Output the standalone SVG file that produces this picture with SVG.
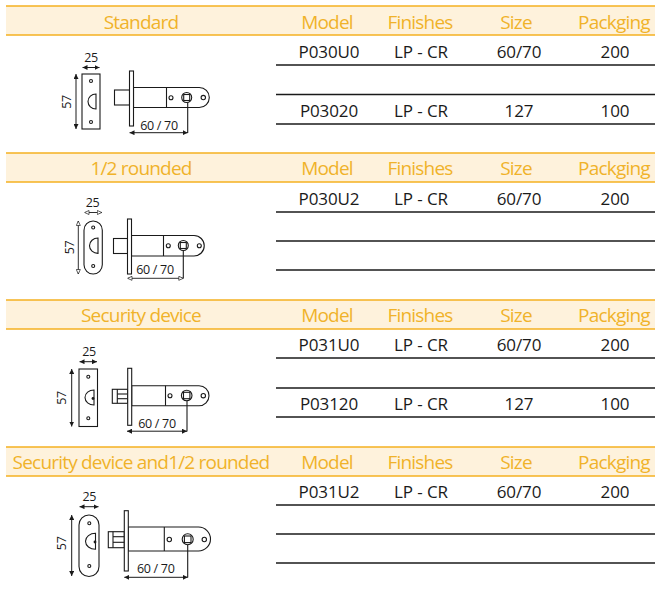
<svg xmlns="http://www.w3.org/2000/svg" width="655" height="591" viewBox="0 0 655 591">
<defs>
<marker id="ah" viewBox="0 0 10 10" refX="10" refY="5" markerWidth="5" markerHeight="5" orient="auto-start-reverse" markerUnits="userSpaceOnUse"><path d="M0,0 L10,5 L0,10 Z" fill="#1a1a1a"/></marker>
<marker id="ao" viewBox="0 0 10 10" refX="10" refY="5" markerWidth="5" markerHeight="5" orient="auto-start-reverse" markerUnits="userSpaceOnUse"><path d="M1,1 L10,5 L1,9 Z" fill="#fff" stroke="#1a1a1a" stroke-width="1.4"/></marker>
<style>
.band{fill:#fef2dc}
.bl{stroke:#f4b120;stroke-width:1.5}
.ht{font-family:"Open Sans","Noto Sans",sans-serif;font-size:19px;letter-spacing:-0.8px;fill:#f0b22a;text-anchor:middle}
.dt{font-family:"Open Sans","Noto Sans",sans-serif;font-size:17px;letter-spacing:-0.1px;fill:#1a1a1a;text-anchor:middle}
.rl{stroke:#1a1a1a;stroke-width:1.3}
.d{fill:none;stroke:#1a1a1a;stroke-width:1.1}
.dw{fill:#fff;stroke:#1a1a1a;stroke-width:1.1}
.dim{stroke:#1a1a1a;stroke-width:1;fill:none;marker-start:url(#ah);marker-end:url(#ah)}
.dimo{stroke:#1a1a1a;stroke-width:0.9;fill:none;marker-start:url(#ao);marker-end:url(#ao)}
.mt{font-family:"Open Sans","Noto Sans",sans-serif;font-size:12.5px;letter-spacing:-0.3px;fill:#1a1a1a;text-anchor:middle}
.dot{fill:#1a1a1a}
</style>
</defs>
<rect width="655" height="591" fill="#fff"/>

<!-- Section 1 -->
<g id="sec1-header">
<rect class="band" x="6" y="6" width="649" height="29"/>
<line class="bl" x1="6" y1="6" x2="655" y2="6"/>
<line class="bl" x1="6" y1="35" x2="655" y2="35"/>
<text class="ht" x="141" y="29">Standard</text>
<text class="ht" x="327" y="29">Model</text>
<text class="ht" x="420" y="29">Finishes</text>
<text class="ht" x="516" y="29">Size</text>
<text class="ht" x="614" y="29">Packging</text>
</g>
<g id="sec1-table">
<text class="dt" x="329" y="58">P030U0</text>
<text class="dt" x="421" y="58">LP - CR</text>
<text class="dt" x="519" y="58">60/70</text>
<text class="dt" x="615" y="58">200</text>
<line class="rl" x1="276" y1="65" x2="655" y2="65"/>
<line class="rl" x1="276" y1="94.5" x2="655" y2="94.5"/>
<text class="dt" x="329" y="117">P03020</text>
<text class="dt" x="421" y="117">LP - CR</text>
<text class="dt" x="519" y="117">127</text>
<text class="dt" x="615" y="117">100</text>
<line class="rl" x1="276" y1="124" x2="655" y2="124"/>
</g>
<g id="sec1-drawing">
<rect class="d" x="82" y="74" width="18" height="55"/>
<circle class="d" cx="91" cy="81" r="1.5"/>
<circle class="d" cx="91" cy="122" r="1.5"/>
<path class="d" d="M96,94 A8,7.5 0 0 0 96,109 Z"/>
<line class="dim" x1="82.5" y1="67.5" x2="99.5" y2="67.5"/>
<text class="mt" x="91" y="62">25</text>
<line class="dim" x1="76" y1="74" x2="76" y2="129"/>
<text class="mt" transform="translate(71,102) rotate(-90)">57</text>
<rect class="dw" x="114.5" y="90" width="15" height="15"/>
<path class="dw" d="M133.5,87.5 H199.3 A10,10 0 0 1 199.3,107.5 H133.5 Z"/>
<line class="d" x1="166.5" y1="87.5" x2="166.5" y2="107.5"/>
<rect class="dw" x="129.5" y="71" width="4" height="55"/>
<circle class="d" cx="171" cy="97.8" r="2"/>
<circle class="d" cx="186.7" cy="97.5" r="5"/>
<rect class="d" x="183.7" y="94.5" width="6" height="6"/>
<circle class="d" cx="203.3" cy="97.6" r="2.2"/>
<line class="d" x1="187.7" y1="102.5" x2="187.7" y2="133"/>
<line class="dim" x1="129.5" y1="132.7" x2="187.7" y2="132.7"/>
<text class="mt" x="159" y="130">60 / 70</text>
</g>

<!-- Section 2 -->
<g id="sec2-header">
<rect class="band" x="6" y="153" width="649" height="29"/>
<line class="bl" x1="6" y1="153" x2="655" y2="153"/>
<line class="bl" x1="6" y1="182" x2="655" y2="182"/>
<text class="ht" x="141" y="175">1/2 rounded</text>
<text class="ht" x="327" y="175">Model</text>
<text class="ht" x="420" y="175">Finishes</text>
<text class="ht" x="516" y="175">Size</text>
<text class="ht" x="614" y="175">Packging</text>
</g>
<g id="sec2-table">
<text class="dt" x="329" y="205">P030U2</text>
<text class="dt" x="421" y="205">LP - CR</text>
<text class="dt" x="519" y="205">60/70</text>
<text class="dt" x="615" y="205">200</text>
<line class="rl" x1="276" y1="212" x2="655" y2="212"/>
<line class="rl" x1="276" y1="241" x2="655" y2="241"/>
<line class="rl" x1="276" y1="270" x2="655" y2="270"/>
</g>
<g id="sec2-drawing">
<rect class="d" x="84" y="221" width="18.3" height="53" rx="9.15"/>
<circle class="d" cx="93.2" cy="227.5" r="1.5"/>
<circle class="d" cx="93.2" cy="266" r="1.5"/>
<path class="d" d="M98,238 A8.5,7.7 0 0 0 98,253.4 Z"/>
<line class="dimo" x1="84.5" y1="212.5" x2="101.8" y2="212.5"/>
<text class="mt" x="92.5" y="207">25</text>
<line class="dimo" x1="78.3" y1="221" x2="78.3" y2="274"/>
<text class="mt" transform="translate(73.5,247.5) rotate(-90)">57</text>
<rect class="dw" x="113.5" y="238.5" width="14" height="15"/>
<path class="dw" d="M131.5,235.5 H194 A10.25,10.25 0 0 1 194,256 H131.5 Z"/>
<line class="d" x1="163.5" y1="235.5" x2="163.5" y2="256"/>
<rect class="dw" x="127.5" y="219" width="4" height="55"/>
<circle class="d" cx="168.3" cy="245.7" r="2"/>
<circle class="d" cx="183.3" cy="245.5" r="5"/>
<rect class="d" x="180.3" y="242.5" width="6" height="6"/>
<circle class="d" cx="199.3" cy="245.7" r="2"/>
<line class="d" x1="183.3" y1="250.5" x2="183.3" y2="278.5"/>
<line class="dimo" x1="127.5" y1="278.3" x2="183.3" y2="278.3"/>
<text class="mt" x="155" y="274">60 / 70</text>
</g>

<!-- Section 3 -->
<g id="sec3-header">
<rect class="band" x="6" y="300" width="649" height="29"/>
<line class="bl" x1="6" y1="300" x2="655" y2="300"/>
<line class="bl" x1="6" y1="329" x2="655" y2="329"/>
<text class="ht" x="141" y="322">Security device</text>
<text class="ht" x="327" y="322">Model</text>
<text class="ht" x="420" y="322">Finishes</text>
<text class="ht" x="516" y="322">Size</text>
<text class="ht" x="614" y="322">Packging</text>
</g>
<g id="sec3-table">
<text class="dt" x="329" y="351">P031U0</text>
<text class="dt" x="421" y="351">LP - CR</text>
<text class="dt" x="519" y="351">60/70</text>
<text class="dt" x="615" y="351">200</text>
<line class="rl" x1="276" y1="358" x2="655" y2="358"/>
<line class="rl" x1="276" y1="388" x2="655" y2="388"/>
<text class="dt" x="329" y="410">P03120</text>
<text class="dt" x="421" y="410">LP - CR</text>
<text class="dt" x="519" y="410">127</text>
<text class="dt" x="615" y="410">100</text>
<line class="rl" x1="276" y1="417" x2="655" y2="417"/>
</g>
<g id="sec3-drawing">
<rect class="d" x="79" y="369" width="18.5" height="57.5"/>
<circle class="d" cx="88.3" cy="376.7" r="1.5"/>
<circle class="d" cx="88.3" cy="418.3" r="1.5"/>
<path class="d" d="M94,390 A9,7.5 0 0 0 94,405 Z"/>
<circle class="dot" cx="93" cy="398.5" r="1.4"/>
<line class="dim" x1="79.5" y1="361.7" x2="97" y2="361.7"/>
<text class="mt" x="89" y="356">25</text>
<line class="dim" x1="71.7" y1="369" x2="71.7" y2="426.5"/>
<text class="mt" transform="translate(66,398) rotate(-90)">57</text>
<rect class="dw" x="112.3" y="389.3" width="15.4" height="14"/>
<line class="d" x1="117.3" y1="389.3" x2="117.3" y2="403.3"/>
<line class="d" x1="117.3" y1="394" x2="127.7" y2="394"/>
<line class="d" x1="117.3" y1="398.7" x2="127.7" y2="398.7"/>
<path class="dw" d="M131.7,385.7 H199 A10,10 0 0 1 199,405.7 H131.7 Z"/>
<line class="d" x1="165.5" y1="385.7" x2="165.5" y2="405.7"/>
<rect class="dw" x="127.7" y="368.3" width="4" height="57"/>
<circle class="d" cx="170" cy="395.7" r="2"/>
<circle class="d" cx="186.7" cy="395.5" r="5.3"/>
<rect class="d" x="183.5" y="392.3" width="6.4" height="6.4"/>
<circle class="d" cx="203.3" cy="395.7" r="2.2"/>
<line class="d" x1="187" y1="400.5" x2="187" y2="431.5"/>
<line class="dim" x1="127" y1="431.2" x2="187" y2="431.2"/>
<text class="mt" x="157" y="427.5">60 / 70</text>
</g>

<!-- Section 4 -->
<g id="sec4-header">
<rect class="band" x="6" y="447" width="649" height="29"/>
<line class="bl" x1="6" y1="447" x2="655" y2="447"/>
<line class="bl" x1="6" y1="476" x2="655" y2="476"/>
<text class="ht" x="141" y="469">Security device and1/2 rounded</text>
<text class="ht" x="327" y="469">Model</text>
<text class="ht" x="420" y="469">Finishes</text>
<text class="ht" x="516" y="469">Size</text>
<text class="ht" x="614" y="469">Packging</text>
</g>
<g id="sec4-table">
<text class="dt" x="329" y="498">P031U2</text>
<text class="dt" x="421" y="498">LP - CR</text>
<text class="dt" x="519" y="498">60/70</text>
<text class="dt" x="615" y="498">200</text>
<line class="rl" x1="276" y1="505" x2="655" y2="505"/>
<line class="rl" x1="276" y1="534" x2="655" y2="534"/>
<line class="rl" x1="276" y1="563" x2="655" y2="563" stroke="#444"/>
</g>
<g id="sec4-drawing">
<rect class="d" x="79" y="515" width="20" height="61.5" rx="10"/>
<circle class="d" cx="89.3" cy="523.3" r="1.5"/>
<circle class="d" cx="89.3" cy="566" r="1.5"/>
<path class="d" d="M95.5,533.3 A10,8 0 0 0 95.5,549.3 Z"/>
<circle class="dot" cx="95" cy="542" r="1.4"/>
<line class="dim" x1="79.5" y1="506.7" x2="98.5" y2="506.7"/>
<text class="mt" x="89.3" y="500.7">25</text>
<line class="dim" x1="71.7" y1="515" x2="71.7" y2="576"/>
<text class="mt" transform="translate(66,543.3) rotate(-90)">57</text>
<rect class="dw" x="108.3" y="531.7" width="16" height="16"/>
<line class="d" x1="113" y1="531.7" x2="113" y2="547.7"/>
<line class="d" x1="113" y1="536.7" x2="124.3" y2="536.7"/>
<line class="d" x1="113" y1="542.3" x2="124.3" y2="542.3"/>
<path class="dw" d="M128.3,527 H198.5 A12,12 0 0 1 198.5,551 H128.3 Z"/>
<line class="d" x1="164.3" y1="527" x2="164.3" y2="551"/>
<rect class="dw" x="124.3" y="510.7" width="4" height="60.3"/>
<circle class="d" cx="169.3" cy="539.5" r="2.2"/>
<circle class="d" cx="187.7" cy="539.3" r="5.5"/>
<rect class="d" x="184.4" y="536" width="6.6" height="6.6"/>
<circle class="d" cx="204.3" cy="539.5" r="2.2"/>
<line class="d" x1="187.7" y1="544.8" x2="187.7" y2="577.5"/>
<line class="dim" x1="124.3" y1="577.3" x2="187.7" y2="577.3"/>
<text class="mt" x="155.7" y="573.3">60 / 70</text>
</g>
</svg>
